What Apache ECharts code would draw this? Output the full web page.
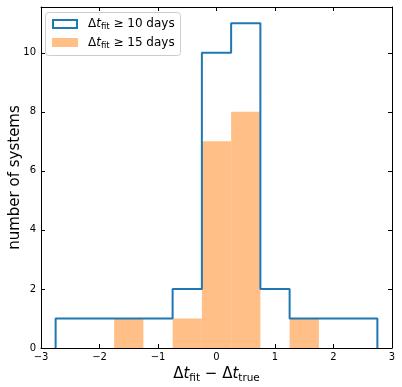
<!DOCTYPE html>
<html>
<head>
<meta charset="utf-8">
<script src="https://cdn.jsdelivr.net/npm/echarts@6/dist/echarts.min.js"></script>
<style>
  html, body { margin: 0; padding: 0; background: #fff; }
  #chart { width: 402px; height: 387px; }
</style>
</head>
<body>
<div id="chart"></div>
<script>
// histogram bins (width 0.5) and counts
const binEdges = [-2.75, -2.25, -1.75, -1.25, -0.75, -0.25, 0.25, 0.75, 1.25, 1.75, 2.25, 2.75]
const counts10 = [1, 1, 1, 1, 2, 10, 11, 2, 1, 1, 1]
const counts15 = [0, 0, 1, 0, 1, 7, 8, 0, 1, 0, 0]
const xTicks = [-3, -2, -1, 0, 1, 2, 3]
const yTicks = [0, 2, 4, 6, 8, 10]

const FONT = 'DejaVu Sans'
const BLUE = '#1f77b4'
const ORANGE = '#ffbf86'

// outline of the step histogram
const stepPts = [[binEdges[0], 0]]
counts10.forEach((c, i) => {
  stepPts.push([binEdges[i], c])
  stepPts.push([binEdges[i + 1], c])
})
stepPts.push([binEdges[binEdges.length - 1], 0])

const barData = counts15.map((c, i) => [binEdges[i], binEdges[i + 1], c]).filter(d => d[2] > 0)

const minus = v => String(v).replace('-', '\u2212')

const rich = {
  d: { fontFamily: FONT, fontSize: 15, color: '#000', lineHeight: 20, verticalAlign: 'middle' },
  t: { fontFamily: FONT, fontSize: 15, fontStyle: 'italic', color: '#000', lineHeight: 20, verticalAlign: 'middle' },
  s: { fontFamily: FONT, fontSize: 10.5, color: '#000', lineHeight: 10, padding: [9, 0, 0, 0], verticalAlign: 'middle' }
}
const legRich = {
  d: { fontFamily: FONT, fontSize: 12, color: '#000', lineHeight: 17, verticalAlign: 'middle' },
  t: { fontFamily: FONT, fontSize: 12, fontStyle: 'italic', color: '#000', lineHeight: 17, verticalAlign: 'middle' },
  s: { fontFamily: FONT, fontSize: 8.5, color: '#000', lineHeight: 9, padding: [6, 0, 0, 0], verticalAlign: 'middle' }
}

const chart = echarts.init(document.getElementById('chart'))

const axisCommon = {
  type: 'value',
  axisLine: { show: true, onZero: false, lineStyle: { color: '#000', width: 1 } },
  axisTick: { show: true, inside: true, length: 4, lineStyle: { color: '#000' } },
  splitLine: { show: false }
}

chart.setOption({
  animation: false,
  grid: { left: 41, right: 10, top: 7, bottom: 39, outerBoundsMode: 'none', containLabel: false },
  xAxis: [
    Object.assign({}, axisCommon, {
      min: -3, max: 3, interval: 1,
      axisLabel: { fontFamily: FONT, fontSize: 10, color: '#000', margin: 4, formatter: v => xTicks.includes(v) ? minus(v) : '' },
      name: '{d|\u0394}{t|t}{s|fit}{d| \u2212 \u0394}{t|t}{s|true}',
      nameLocation: 'middle',
      nameGap: 16,
      nameMoveOverlap: false,
      nameTextStyle: { rich: rich }
    }),
    Object.assign({}, axisCommon, {
      position: 'top', min: -3, max: 3, interval: 1,
      axisLabel: { show: false }
    })
  ],
  yAxis: [
    Object.assign({}, axisCommon, {
      min: 0, max: 11.55, interval: 2,
      axisLabel: { fontFamily: FONT, fontSize: 10, color: '#000', margin: 5, showMaxLabel: false, formatter: v => yTicks.includes(v) ? String(v) : '' },
      name: 'number of systems',
      nameLocation: 'middle',
      nameGap: 18,
      nameMoveOverlap: false,
      nameTextStyle: { fontFamily: FONT, fontSize: 15, color: '#000' }
    }),
    Object.assign({}, axisCommon, {
      position: 'right', min: 0, max: 11.55, interval: 2,
      axisLabel: { show: false }
    })
  ],
  series: [
    {
      type: 'custom',
      xAxisIndex: 0,
      yAxisIndex: 0,
      data: barData,
      renderItem: (params, api) => {
        const p0 = api.coord([api.value(0), api.value(2)])
        const p1 = api.coord([api.value(1), 0])
        return {
          type: 'rect',
          shape: { x: p0[0], y: p0[1], width: p1[0] - p0[0], height: p1[1] - p0[1] },
          style: { fill: ORANGE }
        }
      }
    },
    {
      type: 'line',
      xAxisIndex: 0,
      yAxisIndex: 0,
      data: stepPts,
      showSymbol: false,
      lineStyle: { color: BLUE, width: 2 },
      z: 3
    }
  ],
  graphic: [
    { type: 'rect', shape: { x: 45.5, y: 12.5, width: 135, height: 43, r: 3 }, style: { fill: 'rgba(255,255,255,0.8)', stroke: '#cccccc', lineWidth: 1 }, z: 10 },
    { type: 'rect', shape: { x: 53, y: 20, width: 24, height: 8 }, style: { fill: '#fff', stroke: BLUE, lineWidth: 2 }, z: 11 },
    { type: 'rect', shape: { x: 52, y: 38, width: 26, height: 9 }, style: { fill: ORANGE }, z: 11 },
    { type: 'text', x: 88, y: 24, style: { text: '{d|\u0394}{t|t}{s|fit}{d| \u2265 10 days}', rich: legRich, verticalAlign: 'middle' }, z: 11 },
    { type: 'text', x: 88, y: 43, style: { text: '{d|\u0394}{t|t}{s|fit}{d| \u2265 15 days}', rich: legRich, verticalAlign: 'middle' }, z: 11 }
  ]
})
</script>
</body>
</html>
